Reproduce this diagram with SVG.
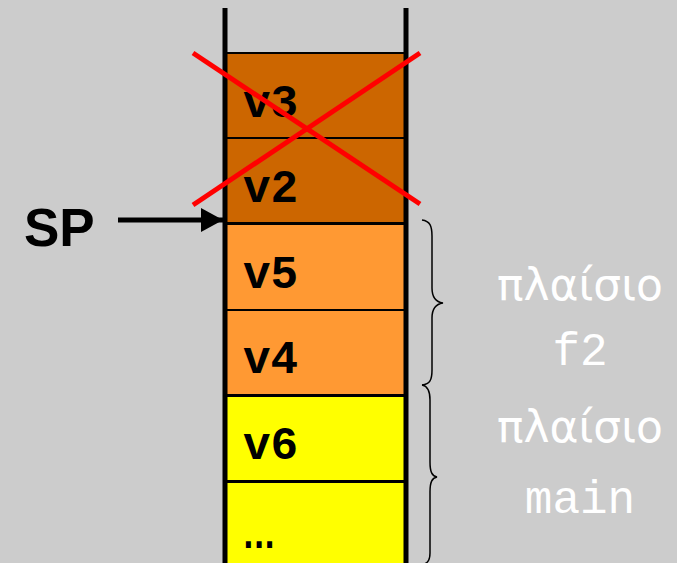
<svg xmlns="http://www.w3.org/2000/svg" width="677" height="563" viewBox="0 0 677 563">
<style>
.cell{stroke:#000;stroke-width:2}
.lbl{font-family:"Liberation Mono","Courier New",monospace;font-weight:bold;font-size:46px;fill:#000}
.frame{font-family:"DejaVu Sans",sans-serif;font-size:44px;fill:#fff;text-anchor:middle}
.fname{font-family:"Liberation Mono","Courier New",monospace;font-size:46px;fill:#fff;text-anchor:middle}
.brace{fill:none;stroke:#000;stroke-width:1.5}
.wall{stroke:#000;stroke-width:5}
.cross{stroke:#f00;stroke-width:5}
</style>
<defs>
<marker id="ah" markerWidth="22" markerHeight="24" refX="22" refY="12" orient="auto" markerUnits="userSpaceOnUse">
<path d="M0,0 L22,12 L0,24 Z" fill="#000"/>
</marker>
</defs>
<rect width="677" height="563" fill="#ccc"/>
<g id="cell-v3"><rect class="cell" x="226" y="53" width="179" height="85" fill="#cc6600"/><text class="lbl" x="243" y="117">v3</text></g>
<g id="cell-v2"><rect class="cell" x="226" y="138" width="179" height="85" fill="#cc6600"/><text class="lbl" x="243" y="202">v2</text></g>
<g id="cell-v5"><rect class="cell" x="226" y="224" width="179" height="86" fill="#ff9933"/><text class="lbl" x="243" y="288">v5</text></g>
<g id="cell-v4"><rect class="cell" x="226" y="310" width="179" height="85" fill="#ff9933"/><text class="lbl" x="243" y="373">v4</text></g>
<g id="cell-v6"><rect class="cell" x="226" y="396" width="179" height="85" fill="#ffff00"/><text class="lbl" x="243" y="459">v6</text></g>
<g id="cell-more"><rect class="cell" x="226" y="482" width="179" height="82" fill="#ffff00"/><text x="243" y="548" font-family="DejaVu Sans" font-weight="bold" font-size="36" textLength="32" lengthAdjust="spacingAndGlyphs" fill="#000">...</text></g>
<g id="stack-walls">
<line class="wall" x1="225" y1="8" x2="225" y2="563"/>
<line class="wall" x1="406" y1="8" x2="406" y2="563"/>
</g>
<g id="cross">
<line class="cross" x1="193" y1="53" x2="420" y2="204"/>
<line class="cross" x1="420" y1="53" x2="193" y2="205"/>
</g>
<g id="sp"><text x="24" y="246" style="font-family:'Liberation Sans',Arial,sans-serif;font-weight:bold;font-size:53px;fill:#000">SP</text></g>
<g id="connectors">
<line x1="118" y1="220" x2="223" y2="220" stroke="#000" stroke-width="5" marker-end="url(#ah)"/>
</g>
<g id="brace-f2">
<path class="brace" d="M422,220 C430,221 432,226 432,236 L432,288 C432,298 436,302 443,303 C436,304 432,308 432,318 L432,370 C432,380 430,384 422,385"/>
</g>
<g id="brace-main">
<path class="brace" d="M422,385 C428,386 430,391 430,400 L430,462 C430,472 432,476 437,477 C432,478 430,482 430,492 L430,553 C430,560 428,563 424,564"/>
</g>
<g id="label-f2"><text class="frame" x="580" y="300" textLength="166" lengthAdjust="spacingAndGlyphs">πλαίσιο</text><text class="fname" x="580" y="365">f2</text></g>
<g id="label-main"><text class="frame" x="580" y="442" textLength="166" lengthAdjust="spacingAndGlyphs">πλαίσιο</text><text class="fname" x="580" y="513">main</text></g>
</svg>
